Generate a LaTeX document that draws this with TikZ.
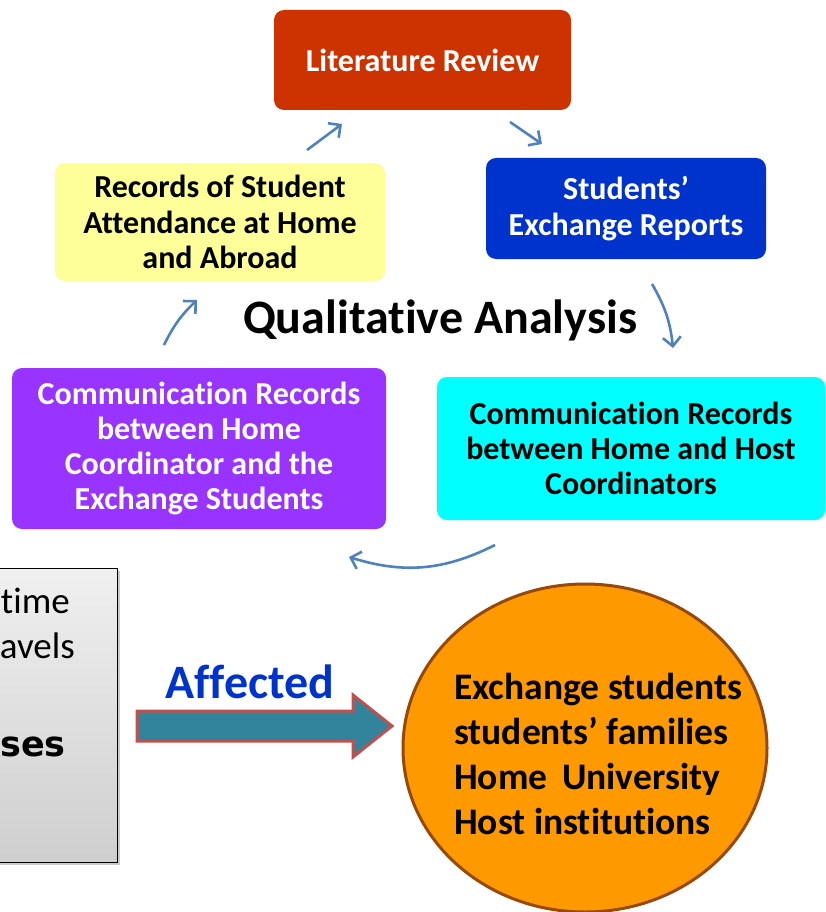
\documentclass[tikz,border=0pt]{standalone}
\usepackage{fontspec}
\setmainfont{Carlito}[Ligatures=NoCommon]
\newfontfamily\verd{DejaVu Sans}
\usetikzlibrary{arrows.meta,shapes.geometric,shadows}
\definecolor{litred}{HTML}{CC3300}
\definecolor{recyel}{HTML}{FFFF99}
\definecolor{stublue}{HTML}{0033CC}
\definecolor{compur}{HTML}{9933FF}
\definecolor{comcyan}{HTML}{00FFFF}
\definecolor{arrblue}{HTML}{4F81BD}
\definecolor{teal2}{HTML}{31849B}
\definecolor{redbord}{HTML}{C0504D}
\definecolor{orng}{HTML}{FF9900}
\definecolor{brwn}{HTML}{984807}
\tikzset{
  box/.style={rounded corners=10pt, inner sep=0pt, align=center, font=\bfseries\fontsize{32}{35.3}\selectfont},
  cyc/.style={draw=arrblue, line width=2.6pt, -{Straight Barb[length=9pt,width=18pt]}},
}
\begin{document}
\begin{tikzpicture}[x=1pt,y=-1pt]
\useasboundingbox (0,0) rectangle (825,912);
% boxes
\node[box, fill=litred, text=white, minimum width=297pt, minimum height=100pt] (lit) at (422.5,60) {Literature Review};
\node[box, fill=recyel, text=black, minimum width=330pt, minimum height=118pt] (rec) at (220,222) {Records of Student\\Attendance at Home\\and Abroad};
\node[box, fill=stublue, text=white, minimum width=280pt, minimum height=101pt] (stu) at (626,208.5) {Students’\\Exchange Reports};
\node[font=\bfseries\fontsize{48}{56}\selectfont] (qa) at (440,320) {Qualitative Analysis};
\node[box, fill=compur, text=white, minimum width=374pt, minimum height=161pt] (pur) at (199,448.5) {Communication Records\\between Home\\Coordinator and the\\Exchange Students};
\node[box, fill=comcyan, text=black, minimum width=388pt, minimum height=143pt] (cya) at (631,448.5) {Communication Records\\between Home and Host\\Coordinators};
% cycle arrows
\coordinate (a1s) at (307,150); \coordinate (a1e) at (342,124);
\coordinate (a2s) at (510,122); \coordinate (a2e) at (542,144);
\coordinate (a3s) at (652,284); \coordinate (a3e) at (673,348);
\coordinate (a4s) at (495,545); \coordinate (a4e) at (349,557);
\coordinate (a5s) at (164,345); \coordinate (a5e) at (197,300);
\draw[cyc] (a1s) -- (a1e);
\draw[cyc] (a2s) -- (a2e);
\draw[cyc] (a3s) to[bend left=12] (a3e);
\draw[cyc] (a4s) to[bend left=22] (a4e);
\draw[cyc] (a5s) to[bend left=10] (a5e);
% gray box
\shade[top color=gray!12, bottom color=gray!38, draw=black, line width=1pt, drop shadow={shadow xshift=3pt, shadow yshift=-3pt, opacity=0.4}] (-10,568) rectangle (117,862);
\node[anchor=base east, inner sep=0pt, font=\fontsize{37}{44}\selectfont] (t1) at (70,613) {time};
\node[anchor=base east, inner sep=0pt, font=\fontsize{37}{44}\selectfont] (t2) at (75,658) {avels};
\node[anchor=base east, inner sep=0pt, font=\verd\bfseries\fontsize{35}{42}\selectfont] (t3) at (66,756) {ses};
% affected arrow
\node[font=\bfseries\fontsize{48}{56}\selectfont, text=stublue] (aff) at (250,682) {Affected};
\draw[fill=teal2, draw=redbord, line width=3pt, line join=miter]
  (137,711) -- (353,711) -- (353,695) -- (392,726) -- (353,757) -- (353,741) -- (137,741) -- cycle;
% circle
\node[ellipse, fill=orng, draw=brwn, line width=3pt, minimum width=364pt, minimum height=328pt] (circ) at (585,748) {};
\node[anchor=west, align=left, inner sep=0pt, font=\bfseries\fontsize{37.5}{44.7}\selectfont] (ctext) at (454,754) {Exchange students\\students’ families\\Home\, University\\Host institutions};
\end{tikzpicture}
\end{document}
